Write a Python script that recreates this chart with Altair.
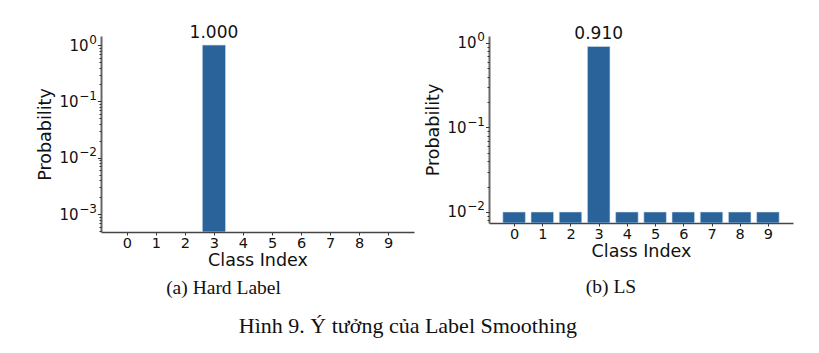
import altair as alt
import pandas as pd

classes = list(range(10))
hard_probs = [0, 0, 0, 1.0, 0, 0, 0, 0, 0, 0]
ls_probs = [0.01, 0.01, 0.01, 0.91, 0.01, 0.01, 0.01, 0.01, 0.01, 0.01]

left_y_domain = [4.8e-4, 1.45]
right_y_domain = [7.41e-3, 1.21]
left_majors = [1.0, 0.1, 0.01, 0.001]
right_majors = [1.0, 0.1, 0.01]
x_domain = [-0.89, 9.89]

BAR = "#2a6399"
SANS = "DejaVu Sans"
SERIF = "Liberation Serif"


def minor_values(lo_exp, hi_exp):
    vals = []
    for e in range(lo_exp, hi_exp + 1):
        for m in range(1, 10):
            vals.append(m * 10.0 ** e)
    return vals


is_major = "abs(log(datum.value)/LN10 - round(log(datum.value)/LN10)) < 1e-6"
exp_e = "round(log(datum.value)/LN10)"
exp_label = (
    f"({is_major}) ? ({exp_e} == 0 ? '0' : '−' + toString(-{exp_e})) : ''"
)


def panel(probs, ydom, majors, w, h, lo_exp, caption, cap_dx, cap_offset):
    df = pd.DataFrame({"cls": classes, "p": probs})
    tick_vals = [v for v in minor_values(lo_exp, 0) if ydom[0] <= v <= ydom[1]]
    base = alt.Chart(df).transform_filter("datum.p > 0").transform_calculate(
        x0="datum.cls - 0.4", x1="datum.cls + 0.4"
    )
    xscale = alt.Scale(domain=x_domain, nice=False, zero=False)
    yscale = alt.Scale(type="log", domain=ydom, nice=False)
    xaxis = alt.Axis(
        values=classes,
        title="Class Index",
        labelFontSize=14.5,
        titleFontSize=17.5,
        titleFontWeight="normal",
        labelFont=SANS,
        titleFont=SANS,
        labelColor="#111",
        titleColor="#111",
        labelOverlap=False,
        labelFlush=False,
        grid=False,
        tickSize=3,
        tickColor="#333",
        domainColor="#444",
        domainWidth=1.5,
        labelPadding=1,
        titlePadding=2,
        format="d",
    )
    bars = base.mark_bar(color=BAR, clip=True, stroke="#cfe0f0", strokeWidth=0.6).encode(
        x=alt.X("x0:Q", scale=xscale, axis=xaxis),
        x2="x1:Q",
        y=alt.Y(
            "p:Q",
            scale=yscale,
            axis=alt.Axis(
                values=majors,
                labelExpr="'10'",
                labelOverlap=False,
                title="Probability",
                labelFontSize=15,
                titleFontSize=17.5,
                titleFontWeight="normal",
                labelFont=SANS,
                titleFont=SANS,
                labelColor="#111",
                titleColor="#111",
                grid=False,
                tickSize=3.5,
                tickColor="#333",
                domainColor="#666",
                domainWidth=2,
                labelPadding=alt.expr(f"{exp_e} == 0 ? 9.5 : 19.5"),
                titlePadding=4,
            ),
        ),
        y2=alt.Y2(datum=ydom[0]),
    )
    text = base.transform_filter("datum.p > 0.5").mark_text(
        baseline="bottom", dy=-3, font=SANS, fontSize=17, color="#111"
    ).encode(
        x=alt.X("cls:Q", scale=xscale, axis=xaxis),
        y=alt.Y("p:Q", scale=yscale, axis=None),
        text=alt.Text("p:Q", format=".3f"),
    )
    # superscript exponents + minor ticks on a second left axis sharing the scale
    sup = base.mark_point(opacity=0).encode(
        x=alt.X("cls:Q", scale=xscale, axis=xaxis),
        y=alt.Y(
            "p:Q",
            scale=yscale,
            axis=alt.Axis(
                orient="left",
                values=tick_vals,
                labelExpr=exp_label,
                labelOverlap=False,
                title=None,
                labelFontSize=12,
                labelFont=SANS,
                labelColor="#111",
                labelPadding=1,
                labelOffset=-6,
                grid=False,
                domain=False,
                tickSize=alt.expr(f"({is_major}) ? 3.5 : 2"),
                tickColor="#333",
            ),
        ),
    )
    return alt.layer(bars, text, sup).resolve_axis(y="independent").properties(
        width=w,
        height=h,
        title=alt.TitleParams(
            caption,
            orient="bottom",
            anchor="middle",
            frame="group",
            font=SERIF,
            fontSize=19.5,
            fontWeight="normal",
            color="#111",
            dx=cap_dx,
            offset=cap_offset,
        ),
    )


left = panel(hard_probs, left_y_domain, left_majors, 313, 196, -4, "(a) Hard Label", -34, 10)
right = panel(ls_probs, right_y_domain, right_majors, 304, 187, -3, "(b) LS", -30, 18)

chart = alt.hconcat(left, right, spacing=10).properties(
    title=alt.TitleParams(
        "Hình 9. Ý tưởng của Label Smoothing",
        orient="bottom",
        anchor="middle",
        font=SERIF,
        fontSize=22,
        fontWeight="normal",
        color="#111",
        dx=-7,
        offset=18,
    ),
    padding={"left": 36, "top": 24, "right": 5, "bottom": 5},
    background="white",
).configure_view(stroke=None)

chart.save("out.html", embed_options={"renderer": "svg", "actions": False})
